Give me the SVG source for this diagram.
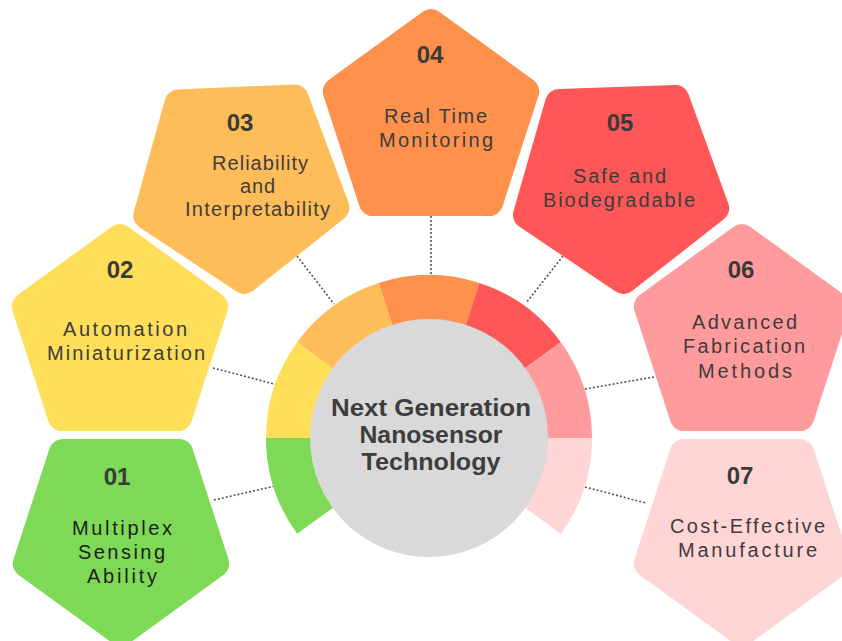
<svg xmlns="http://www.w3.org/2000/svg" width="842" height="641" viewBox="0 0 842 641">
<style>
.pent{stroke-width:28;stroke-linejoin:round}
.c1{fill:#7ED957;stroke:#7ED957}
.c2{fill:#FFDE59;stroke:#FFDE59}
.c3{fill:#FFBD59;stroke:#FFBD59}
.c4{fill:#FF914D;stroke:#FF914D}
.c5{fill:#FF5757;stroke:#FF5757}
.c6{fill:#FF9B9D;stroke:#FF9B9D}
.c7{fill:#FFD5D6;stroke:#FFD5D6}
.seg{stroke:none}
.num{font-family:"Liberation Sans",Arial,sans-serif;font-weight:bold;font-size:24px;fill:#3a3a3a;text-anchor:middle}
.lbl{font-family:"Liberation Sans",Arial,sans-serif;font-size:20px;fill:#3d3d3d;text-anchor:middle}
.dark{fill:#1e1e1e}
.hub{font-family:"Liberation Sans",Arial,sans-serif;font-weight:bold;font-size:24px;fill:#3d3d3d;text-anchor:middle}
.conn{stroke:#555;stroke-width:1.6;stroke-dasharray:2 2;fill:none}
</style>
<rect width="842" height="641" fill="#ffffff"/>

<g id="connectors">
<line class="conn" x1="214" y1="500" x2="275" y2="486"/>
<line class="conn" x1="213" y1="368" x2="278" y2="385"/>
<line class="conn" x1="297" y1="256" x2="334" y2="304"/>
<line class="conn" x1="431" y1="216" x2="431" y2="275"/>
<line class="conn" x1="563" y1="256" x2="526" y2="303"/>
<line class="conn" x1="585" y1="389" x2="654" y2="377"/>
<line class="conn" x1="585" y1="487" x2="646" y2="503"/>
</g>

<g id="hub">
<path class="seg c1" d="M429,438 L297.13,533.81 A163,163 0 0 1 266,438 Z"/>
<path class="seg c2" d="M429,438 L266,438 A163,163 0 0 1 297.13,342.19 Z"/>
<path class="seg c3" d="M429,438 L297.13,342.19 A163,163 0 0 1 378.63,282.97 Z"/>
<path class="seg c4" d="M429,438 L378.63,282.97 A163,163 0 0 1 479.37,282.97 Z"/>
<path class="seg c5" d="M429,438 L479.37,282.97 A163,163 0 0 1 560.87,342.19 Z"/>
<path class="seg c6" d="M429,438 L560.87,342.19 A163,163 0 0 1 592,438 Z"/>
<path class="seg c7" d="M429,438 L592,438 A163,163 0 0 1 560.87,533.81 Z"/>
<circle cx="429" cy="438" r="119" fill="#D9D9D9"/>
<text class="hub" x="431" y="416" textLength="200" lengthAdjust="spacingAndGlyphs">Next Generation</text>
<text class="hub" x="431" y="443" textLength="143" lengthAdjust="spacingAndGlyphs">Nanosensor</text>
<text class="hub" x="431" y="470" textLength="139" lengthAdjust="spacingAndGlyphs">Technology</text>
</g>

<g id="node-01">
<polygon class="pent c1" transform="translate(121,533)" points="0,99 94.16,30.59 58.19,-80.09 -58.19,-80.09 -94.16,30.59"/>
<text class="num" x="117" y="485">01</text>
<text class="lbl dark" x="122" y="535" textLength="100" lengthAdjust="spacing">Multiplex</text>
<text class="lbl dark" x="121.5" y="559" textLength="87" lengthAdjust="spacing">Sensing</text>
<text class="lbl dark" x="122" y="583" textLength="70" lengthAdjust="spacing">Ability</text>
</g>

<g id="node-02">
<polygon class="pent c2" transform="translate(120,337)" points="0,-99 94.16,-30.59 58.19,80.09 -58.19,80.09 -94.16,-30.59"/>
<text class="num" x="120" y="278">02</text>
<text class="lbl" x="125" y="336" textLength="124" lengthAdjust="spacing">Automation</text>
<text class="lbl" x="126" y="360" textLength="158" lengthAdjust="spacing">Miniaturization</text>
</g>

<g id="node-03">
<polygon class="pent c3" transform="translate(240,181) rotate(-2.5)" points="0,99 94.16,30.59 58.19,-80.09 -58.19,-80.09 -94.16,30.59"/>
<text class="num" x="240" y="131">03</text>
<text class="lbl" x="260" y="170" textLength="96" lengthAdjust="spacing">Reliability</text>
<text class="lbl" x="257.5" y="193" textLength="35" lengthAdjust="spacing">and</text>
<text class="lbl" x="257.5" y="216" textLength="145" lengthAdjust="spacing">Interpretability</text>
</g>

<g id="node-04">
<polygon class="pent c4" transform="translate(431,122)" points="0,-99 94.16,-30.59 58.19,80.09 -58.19,80.09 -94.16,-30.59"/>
<text class="num" x="430" y="63">04</text>
<text class="lbl" x="435.5" y="123" textLength="103" lengthAdjust="spacing">Real Time</text>
<text class="lbl" x="436" y="147" textLength="114" lengthAdjust="spacing">Monitoring</text>
</g>

<g id="node-05">
<polygon class="pent c5" transform="translate(620,181) rotate(-2)" points="0,99 94.16,30.59 58.19,-80.09 -58.19,-80.09 -94.16,30.59"/>
<text class="num" x="620" y="131">05</text>
<text class="lbl" x="619.5" y="183" textLength="93" lengthAdjust="spacing">Safe and</text>
<text class="lbl" x="619" y="207" textLength="152" lengthAdjust="spacing">Biodegradable</text>
</g>

<g id="node-06">
<polygon class="pent c6" transform="translate(742,337)" points="0,-99 94.16,-30.59 58.19,80.09 -58.19,80.09 -94.16,-30.59"/>
<text class="num" x="741" y="278">06</text>
<text class="lbl" x="744.5" y="329" textLength="105" lengthAdjust="spacing">Advanced</text>
<text class="lbl" x="744" y="353" textLength="122" lengthAdjust="spacing">Fabrication</text>
<text class="lbl" x="745" y="378" textLength="94" lengthAdjust="spacing">Methods</text>
</g>

<g id="node-07">
<polygon class="pent c7" transform="translate(742,533)" points="0,99 94.16,30.59 58.19,-80.09 -58.19,-80.09 -94.16,30.59"/>
<text class="num" x="740" y="484">07</text>
<text class="lbl" x="747.5" y="533" textLength="155" lengthAdjust="spacing">Cost-Effective</text>
<text class="lbl" x="747.5" y="557" textLength="139" lengthAdjust="spacing">Manufacture</text>
</g>
</svg>
